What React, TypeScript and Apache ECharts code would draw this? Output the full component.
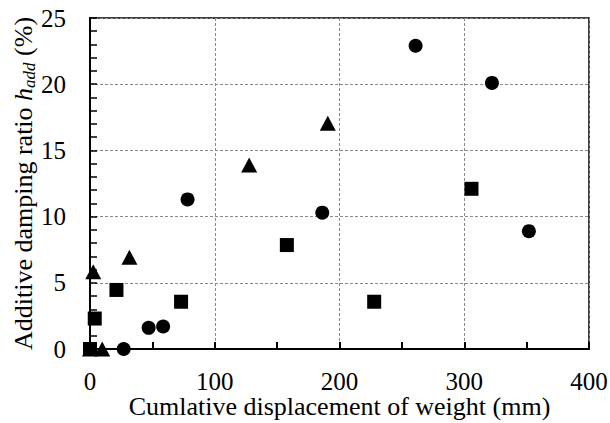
import React, { useEffect, useRef } from "react";
import * as echarts from "echarts";

const circleX = [27, 47, 58.6, 78.2, 186.2, 261, 322.2, 351.8];
const circleY = [0, 1.6, 1.7, 11.3, 10.3, 22.9, 20.1, 8.9];

const squareX = [0, 3.8, 21.2, 73, 157.8, 227.8, 305.8];
const squareY = [0, 2.3, 4.46, 3.57, 7.85, 3.57, 12.1];

const triangleX = [0, 9.8, 2.6, 31.6, 127.6, 190.6];
const triangleY = [0, 0, 5.84, 6.93, 13.9, 17.05];

const xTicks = [0, 100, 200, 300, 400];
const yTicks = [0, 5, 10, 15, 20, 25];

const FONT = "Liberation Serif, Times New Roman, serif";

function zip(xs: number[], ys: number[]) {
  return xs.map((x, i) => [x, ys[i]]);
}

export default function App() {
  const ref = useRef<HTMLDivElement>(null);
  useEffect(() => {
    if (!ref.current) return;
    const chart = echarts.init(ref.current, undefined, { renderer: "svg" });
    const gridLine = { show: true, lineStyle: { color: "#8a8a8a", width: 1, type: [3, 2] as any } };
    const mark = { color: "#000", opacity: 1 };
    chart.setOption({
      animation: false,
      backgroundColor: "#fff",
      textStyle: { fontFamily: FONT },
      grid: {
        left: 90,
        right: 21,
        top: 18,
        bottom: 74,
        containLabel: false,
        outerBoundsMode: "none",
        show: true,
        borderColor: "#000",
        borderWidth: 1.5,
      },
      xAxis: {
        type: "value",
        min: xTicks[0],
        max: xTicks[xTicks.length - 1],
        interval: 100,
        name: "Cumlative displacement of weight (mm)",
        nameLocation: "middle",
        nameGap: 46,
        nameMoveOverlap: false,
        nameTextStyle: { fontFamily: FONT, fontSize: 26, lineHeight: 22, color: "#000" },
        axisLine: { show: true, lineStyle: { color: "#000", width: 2 } },
        axisTick: { show: true, inside: true, length: 7, lineStyle: { color: "#000", width: 2 } },
        minorTick: { show: true, splitNumber: 2, length: 7, lineStyle: { color: "#000", width: 2 } },
        axisLabel: { fontFamily: FONT, fontSize: 25, lineHeight: 20, color: "#000", margin: 22 },
        splitLine: gridLine,
      },
      yAxis: {
        type: "value",
        min: yTicks[0],
        max: yTicks[yTicks.length - 1],
        interval: 5,
        name: "Additive damping ratio {i|h}{sub|add} (%)",
        nameLocation: "middle",
        nameGap: 52,
        nameMoveOverlap: false,
        nameTextStyle: {
          fontFamily: FONT,
          fontSize: 26,
          color: "#000",
          rich: {
            i: { fontFamily: FONT, fontSize: 26, fontStyle: "italic", color: "#000" },
            sub: {
              fontFamily: FONT,
              fontSize: 17,
              fontStyle: "italic",
              color: "#000",
              padding: [12, 0, 0, 0],
            },
          },
        },
        axisLine: { show: true, lineStyle: { color: "#000", width: 2 } },
        axisTick: { show: true, inside: true, length: 7, lineStyle: { color: "#000", width: 1.5 } },
        minorTick: { show: true, splitNumber: 5, length: 7, lineStyle: { color: "#000", width: 1.5 } },
        axisLabel: { fontFamily: FONT, fontSize: 25, color: "#000", margin: 24 },
        splitLine: gridLine,
      },
      series: [
        {
          type: "scatter",
          data: zip(circleX, circleY),
          symbol: "circle",
          symbolSize: 14,
          itemStyle: mark,
        },
        {
          type: "scatter",
          data: zip(squareX, squareY),
          symbol: "rect",
          symbolSize: 14,
          itemStyle: mark,
        },
        {
          type: "scatter",
          data: zip(triangleX, triangleY),
          symbol: "triangle",
          symbolSize: [16, 15],
          itemStyle: mark,
        },
      ],
    });
    return () => chart.dispose();
  }, []);
  return <div ref={ref} style={{ width: 610, height: 423, position: "absolute", left: 0, top: 0 }} />;
}
